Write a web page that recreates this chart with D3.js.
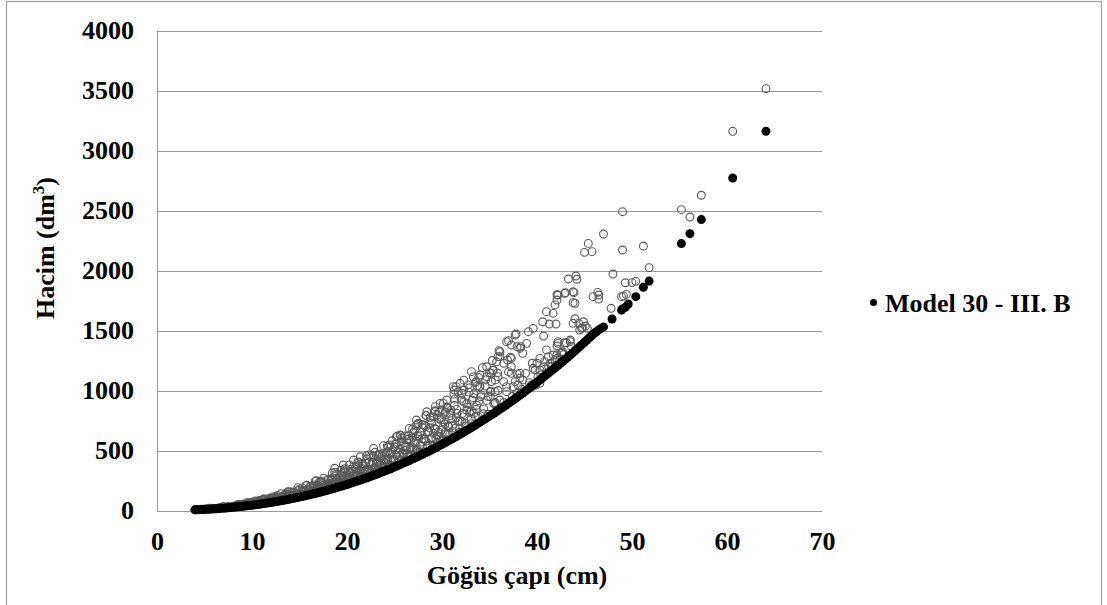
<!DOCTYPE html>
<html><head><meta charset="utf-8">
<script src="https://cdn.jsdelivr.net/npm/d3@7/dist/d3.min.js"></script>
<style>
html,body{margin:0;padding:0;background:#fff;}
svg{display:block;font-family:"Liberation Serif","Times New Roman",serif;font-weight:bold;}
</style></head>
<body>
<svg id="chart" width="1107" height="605"></svg>
<script>
// ---------- DATA ----------
const xTicks = [0,10,20,30,40,50,60,70];
const yTicks = [0,500,1000,1500,2000,2500,3000,3500,4000];
const xTitle = "Göğüs çapı (cm)";
const yTitleMain = "Hacim (dm";
const yTitleSup = "3";
const legendLabel = "Model 30 - III. B";

// Observed trees (open circles): breast-height diameter (cm) and volume (dm3)
const obsDbh = [
4.0,4.2,4.4,4.6,4.8,5.0,5.2,5.4,5.6,5.8,6.0,6.2,6.4,6.6,6.8,7.0,7.2,7.4,7.6,7.8,8.0,8.2,8.4,8.6,8.8,9.0,9.2,9.4,9.6,9.8,10.0,
10.15,10.3,10.45,10.6,10.75,10.9,11.05,11.2,11.35,11.5,11.65,11.8,11.95,12.1,12.25,12.4,12.55,12.7,12.85,13.0,13.15,13.3,13.45,13.6,13.75,13.9,14.05,14.2,14.35,14.5,14.65,14.8,14.95,15.1,15.25,15.4,15.55,15.7,15.85,16.0,16.15,16.3,16.45,16.6,16.75,16.9,17.05,17.2,17.35,17.5,17.65,17.8,17.95,18.1,18.25,18.4,18.55,18.7,18.85,19.0,19.15,19.3,19.45,19.6,19.75,19.9,
12.05,12.35,12.65,12.95,13.25,13.55,13.85,14.15,14.45,14.75,15.05,15.35,15.65,15.95,16.25,16.55,16.85,17.15,17.45,17.75,18.05,18.35,18.65,18.95,19.25,19.55,19.85,
8.1,8.3,8.5,8.7,8.9,9.1,9.3,9.5,9.7,9.9,10.1,10.3,10.5,10.7,10.9,11.1,11.3,11.5,11.7,11.9,12.1,12.3,12.5,12.7,12.9,13.1,13.3,13.5,13.7,13.9,14.1,14.3,14.5,14.7,14.9,15.1,15.3,15.5,15.7,15.9,16.1,16.3,16.5,16.7,16.9,17.1,17.3,17.5,17.7,17.9,18.1,18.3,18.5,18.7,18.9,19.1,19.3,19.5,19.7,19.9,
8.55,9.0,9.45,9.9,10.35,10.8,11.25,11.7,12.15,12.6,13.05,13.5,13.95,14.4,14.85,15.3,15.75,16.2,16.65,17.1,17.55,18.0,18.45,18.9,19.35,19.8,20.25,20.7,21.15,21.6,22.05,22.5,22.95,23.4,23.85,24.3,24.75,25.2,25.65,26.1,26.55,27.0,27.45,27.9,28.35,28.8,29.25,29.7,30.15,30.6,
20.05,20.2,20.35,20.5,20.65,20.8,20.95,21.1,21.25,21.4,21.55,21.7,21.85,22.0,22.15,22.3,22.45,22.6,22.75,22.9,23.05,23.2,23.35,23.5,23.65,23.8,23.95,24.1,24.25,24.4,24.55,24.7,24.85,25.0,25.15,25.3,25.45,25.6,25.75,25.9,26.05,26.2,26.35,26.5,26.65,26.8,26.95,27.1,27.25,27.4,27.55,27.7,27.85,28.0,28.15,28.3,28.45,28.6,28.75,28.9,29.05,29.2,29.35,29.5,29.65,29.8,29.95,
20.1,20.3,20.5,20.7,20.9,21.1,21.3,21.5,21.7,21.9,22.1,22.3,22.5,22.7,22.9,23.1,23.3,23.5,23.7,23.9,24.1,24.3,24.5,24.7,24.9,25.1,25.3,25.5,25.7,25.9,26.1,26.3,26.5,26.7,26.9,27.1,27.3,27.5,27.7,27.9,28.1,28.3,28.5,28.7,28.9,29.1,29.3,29.5,29.7,29.9,
20.1,20.3,20.5,20.7,20.9,21.1,21.3,21.5,21.7,21.9,22.1,22.3,22.5,22.7,22.9,23.1,23.3,23.5,23.7,23.9,24.1,24.3,24.5,24.7,24.9,25.1,25.3,25.5,25.7,25.9,26.1,26.3,26.5,26.7,26.9,27.1,27.3,27.5,27.7,27.9,28.1,28.3,28.5,28.7,28.9,29.1,29.3,29.5,29.7,29.9,30.1,30.3,30.5,30.7,30.9,31.1,31.3,31.5,31.7,31.9,32.1,32.3,32.5,32.7,32.9,33.1,33.3,33.5,33.7,33.9,
30.05,30.2,30.35,30.5,30.65,30.8,30.95,31.1,31.25,31.4,31.55,31.7,31.85,32.0,32.15,32.3,32.45,32.6,32.75,32.9,33.05,33.2,33.35,33.5,33.65,33.8,33.95,34.1,34.25,34.4,34.55,34.7,34.85,35.0,35.15,35.3,35.45,35.6,35.75,35.9,
30.1,30.35,30.6,30.85,31.1,31.35,31.6,31.85,32.1,32.35,32.6,32.85,33.1,33.35,33.6,33.85,34.1,34.35,34.6,34.85,35.1,35.35,35.6,35.85,
33.1,34.0,34.7,35.2,31.9,31.2,34.0,33.6,35.4,35.9,36.5,35.2,34.7,35.6,36.8,35.6,36.1,35.1,33.3,31.5,31.3,32.3,32.1,
28.4,29.3,29.8,30.5,30.0,27.3,27.5,25.2,25.6,22.8,21.4,20.7,18.7,19.6,
36.0,36.1,36.1,35.9,36.9,37.3,36.8,37.3,37.9,38.2,38.5,38.9,37.7,39.1,39.6,40.7,37.0,37.8,38.3,
37.2,36.5,37.3,37.0,37.9,38.2,37.7,36.8,37.5,
39.5,40.3,40.7,39.8,40.1,41.4,41.2,42.1,42.6,41.9,40.3,39.5,
42.2,42.9,43.5,42.1,42.7,
40.6,41.0,41.7,41.9,42.1,42.2,42.9,43.3,44.1,44.2,43.8,44.0,43.0,43.9,43.8,42.1,
41.3,42.0,
44.0,43.8,44.4,44.9,45.1,44.7,44.5,45.3,44.8,
43.5,43.1,42.2,42.6,41.0,41.7,40.8,40.0,40.3,41.2,42.1,42.4,39.6,38.8,38.2,38.5,39.9,38.0,37.3,
41.0,39.4,37.9,
36.5,37.4,38.4,39.2,40.4,41.6,42.8,43.6,
45.0,45.4,45.8,47.0,49.0,49.0,51.2,51.8,48.0,50.0,50.4,48.9,49.4,47.8,45.9,46.5,46.4,46.5,49.1,49.3,
55.2,56.1,57.3,60.6,64.1
];
const obsVol = [
6,8,8,11,10,10,14,14,19,14,18,17,16,25,23,33,23,29,36,30,28,37,34,47,40,37,51,49,64,47,60,
54,49,71,63,84,59,74,89,71,64,83,74,100,83,76,102,95,126,88,109,99,88,127,112,156,103,128,153,121,109,140,125,167,139,126,168,156,207,143,177,158,140,202,177,248,162,200,237,188,167,215,191,254,210,190,253,234,320,212,262,234,206,298,259,348,236,
85,104,83,110,99,135,121,105,146,132,141,172,136,178,159,213,190,163,225,201,214,258,204,265,235,313,277,
31,40,32,41,51,43,50,43,59,54,71,55,57,71,57,72,88,73,85,72,98,89,117,89,91,113,90,113,137,113,130,111,149,134,174,133,135,167,132,164,198,163,187,158,212,189,245,187,188,232,183,226,272,223,256,215,288,256,331,251,
50,52,66,67,80,78,98,99,113,113,140,139,157,155,191,188,210,201,245,239,270,258,312,305,334,318,380,367,405,389,456,447,485,467,540,527,581,555,624,621,684,650,720,715,790,753,832,819,892,855,
229,293,260,345,285,257,341,314,400,284,351,312,274,394,343,463,311,382,452,355,316,403,356,472,389,350,463,427,541,384,474,420,369,530,460,620,416,510,602,472,419,534,471,623,513,460,608,559,708,502,617,547,479,688,596,792,537,658,775,607,538,684,603,796,655,586,774,
275,326,253,325,284,373,326,274,372,326,341,404,313,401,349,459,401,337,455,399,417,493,381,487,424,557,485,407,549,480,501,591,457,583,507,664,578,484,653,570,594,700,540,688,597,781,679,568,765,667,
253,310,244,301,361,295,336,282,377,334,431,326,327,401,314,387,462,377,430,360,480,425,547,413,414,506,396,486,580,472,537,449,598,528,678,511,511,624,487,598,712,579,657,548,729,643,825,621,620,755,589,722,860,698,791,659,876,772,990,744,741,903,703,861,1023,830,940,783,1039,914,
581,739,651,860,707,633,836,767,970,687,843,746,652,934,809,1086,727,889,1047,819,724,920,810,1067,877,784,1034,948,1190,847,1038,917,802,1148,992,1250,891,1088,1239,1000,
694,821,635,812,707,928,809,678,915,801,835,986,761,972,845,1108,963,806,1088,950,989,1167,900,1147,
1157,1129,1198,1143,1060,1032,1032,1074,1171,1115,1074,1074,1115,990,990,893,921,948,1115,1032,1004,1004,977,
823,865,893,921,838,754,727,615,629,518,448,421,352,379,
1332,1282,1323,1282,1254,1268,1407,1379,1365,1352,1310,1393,1462,1490,1518,1454,1415,1471,1365,
1277,1227,1198,1157,1138,1102,1074,1032,1032,
1227,1268,1198,1171,1115,1227,1282,1296,1315,1254,1060,1032,
1407,1398,1407,1371,1323,
1573,1657,1643,1713,1754,1796,1810,1929,1954,1927,1823,1727,1815,1815,1732,1798,
1554,1554,
1598,1560,1560,1573,1537,1518,1504,1518,1524,
1421,1398,1393,1310,1338,1296,1240,1227,1171,1204,1268,1254,1185,1143,1143,1088,1046,1046,1143,
1143,1046,977,
900,950,1010,1065,1130,1200,1300,1370,
2151,2226,2157,2304,2490,2171,2204,2024,1971,1899,1910,1782,1801,1685,1782,1762,1818,1796,1788,1898,
2507,2446,2627,3160,3515
];

// Model 30 - III. B predictions (filled circles)
const modelDbh = [
4,4.25,4.5,4.75,5,5.25,5.5,5.75,6,6.25,6.5,6.75,7,7.25,7.5,7.75,8,8.25,8.5,8.75,9,9.25,9.5,9.75,10,10.25,10.5,10.75,11,11.25,11.5,11.75,12,12.25,12.5,12.75,13,13.25,13.5,13.75,14,14.25,14.5,14.75,15,15.25,15.5,15.75,16,16.25,16.5,16.75,17,17.25,17.5,17.75,18,18.25,18.5,18.75,19,19.25,19.5,19.75,20,20.25,20.5,20.75,21,21.25,21.5,21.75,22,22.25,22.5,22.75,23,23.25,23.5,23.75,24,24.25,24.5,24.75,25,25.25,25.5,25.75,26,26.25,26.5,26.75,27,27.25,27.5,27.75,28,28.25,28.5,28.75,29,29.25,29.5,29.75,30,30.25,30.5,30.75,31,31.25,31.5,31.75,32,32.25,32.5,32.75,33,33.25,33.5,33.75,34,34.25,34.5,34.75,35,35.25,35.5,35.75,36,36.25,36.5,36.75,37,37.25,37.5,37.75,38,38.25,38.5,38.75,39,39.25,39.5,39.75,40,40.25,40.5,40.75,41,41.25,41.5,41.75,42,42.25,42.5,42.75,43,43.25,43.5,43.75,44,44.25,44.5,44.75,45,45.25,45.5,45.75,46,46.25,46.5,46.75,47,
47.9,48.9,49.0,49.3,49.6,50.4,51.2,51.8,55.2,56.1,57.3,60.6,64.1
];
const modelVol = [
5.4,6.2,7.1,8.0,9.0,10.1,11.2,12.4,13.6,15.0,16.4,17.9,19.4,21.1,22.8,24.6,26.4,28.4,30.4,32.5,34.6,36.9,39.2,41.6,44.0,46.7,49.4,52.1,54.9,57.9,60.9,63.9,67.0,70.3,73.7,77.1,80.5,84.2,88,91.7,95.5,99.6,103.7,107.8,112,116.5,121,125.5,130,134.7,139.5,144.2,149,154.2,159.5,164.7,170,175.7,181.5,187.2,193,199,205,211,217,223.5,230,236.5,243,249.7,256.5,263.2,270,277.2,284.5,291.7,299,306.7,314.5,322.2,330,338,346,354.5,363,371.5,380,388.5,397,406,415,424,433,442.5,452,461.5,471,480.5,490,500,510,520,530,540.5,551,562,573,584,595,606,617,628.5,640,651.5,663,675,687,699,711,723.5,736,748.5,761,773.5,786,799,812,825.5,839,852.5,866,879.5,893,907,921,935.5,950,964.5,979,994,1009,1024,1039,1054,1069,1084.5,1100,1116,1132,1148,1164,1180,1196,1212.5,1229,1245.5,1262,1279,1296,1313.5,1331,1348.5,1366,1384,1402,1420,1438,1456,1474,1489.5,1505,1517.5,1530,
1596,1671,1680,1693,1721,1782,1860,1912,2224,2307,2424,2771,3160
];

// ---------- CHART ----------
const svg = d3.select("#chart");
const W = 1107, H = 605;
const x = d3.scaleLinear().domain([0,70]).range([157,822]);
const y = d3.scaleLinear().domain([0,4000]).range([510.5,30.5]);

svg.append("rect").attr("x",0).attr("y",0).attr("width",W).attr("height",H).attr("fill","#fff");
// outer chart border
svg.append("rect").attr("x",6.5).attr("y",1.5).attr("width",1095).attr("height",640)
  .attr("fill","none").attr("stroke","#a6a6a6").attr("stroke-width",1.3);

// gridlines
svg.append("g").selectAll("line").data(yTicks).join("line")
  .attr("x1",x(0)).attr("x2",x(70))
  .attr("y1",d=>Math.round(y(d))+0.5).attr("y2",d=>Math.round(y(d))+0.5)
  .attr("stroke","#9a9a9a").attr("stroke-width",1);

// left axis line
svg.append("line").attr("x1",157.5).attr("x2",157.5).attr("y1",y(4000)).attr("y2",y(0)+0.5)
  .attr("stroke","#9a9a9a").attr("stroke-width",1);

// axes (labels only)
const yAxis = d3.axisLeft(y).tickValues(yTicks).tickSize(0).tickPadding(23).tickFormat(d3.format("d"));
const gy = svg.append("g").attr("transform","translate(157,0)").call(yAxis);
gy.select(".domain").remove();
gy.selectAll("text").attr("font-size",26).attr("font-family","Liberation Serif, Times New Roman, serif")
  .attr("font-weight","bold").attr("fill","#000");

const xAxis = d3.axisBottom(x).tickValues(xTicks).tickSize(0).tickPadding(21.5).tickFormat(d3.format("d"));
const gx = svg.append("g").attr("transform","translate(0,510.5)").call(xAxis);
gx.select(".domain").remove();
gx.selectAll("text").attr("font-size",26).attr("font-family","Liberation Serif, Times New Roman, serif")
  .attr("font-weight","bold").attr("fill","#000");

// observed points
const obs = obsDbh.map((d,i)=>({d:d,v:obsVol[i]}));
svg.append("g").selectAll("circle").data(obs).join("circle")
  .attr("cx",p=>x(p.d)).attr("cy",p=>y(p.v)).attr("r",3.9)
  .attr("fill","none").attr("stroke","#595959").attr("stroke-width",1.1);

// model points
const mod = modelDbh.map((d,i)=>({d:d,v:modelVol[i]}));
svg.append("g").selectAll("circle").data(mod).join("circle")
  .attr("cx",p=>x(p.d)).attr("cy",p=>y(p.v)).attr("r",4.5)
  .attr("fill","#000");

// axis titles
svg.append("text").attr("x",517).attr("y",584).attr("text-anchor","middle")
  .attr("font-size",26).attr("fill","#000").text(xTitle);

const yt = svg.append("text").attr("transform","translate(54,248) rotate(-90)")
  .attr("text-anchor","middle").attr("font-size",26).attr("fill","#000");
yt.append("tspan").text(yTitleMain);
yt.append("tspan").attr("dy",-10).attr("font-size",17).text(yTitleSup);
yt.append("tspan").attr("dy",10).text(")");

// legend
const lg = svg.append("g");
lg.append("circle").attr("cx",873.5).attr("cy",302.5).attr("r",3.6).attr("fill","#000");
lg.append("text").attr("x",885).attr("y",311.5).attr("font-size",26).attr("fill","#000").text(legendLabel);
</script>
</body></html>
